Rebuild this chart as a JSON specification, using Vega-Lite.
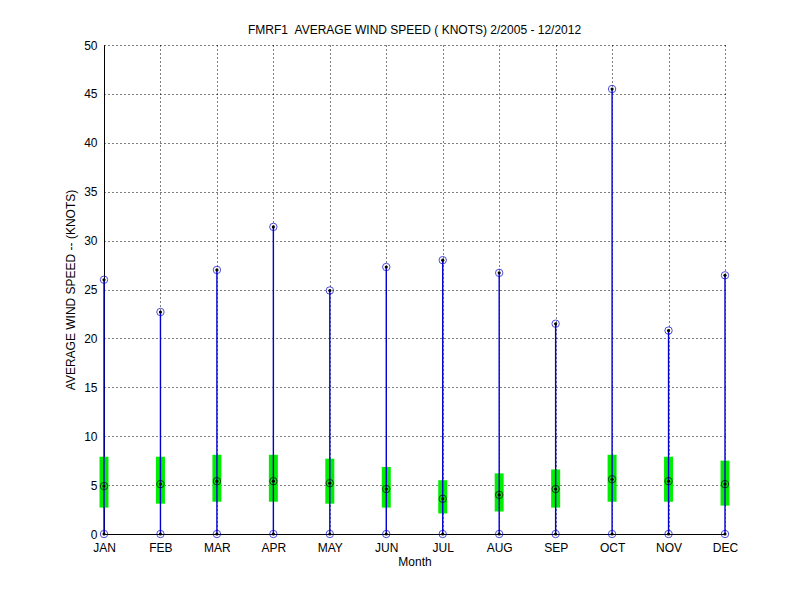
{
  "$schema": "https://vega.github.io/schema/vega-lite/v6.json",
  "width": 621,
  "height": 489,
  "autosize": "none",
  "padding": {"left": 104, "top": 45, "right": 75, "bottom": 66},
  "background": "white",
  "config": {
    "font": "Liberation Sans",
    "view": {"stroke": null},
    "axis": {
      "zindex": 0,
      "labelFont": "Liberation Sans",
      "titleFont": "Liberation Sans",
      "labelFontSize": 12,
      "titleFontSize": 12,
      "titleFontWeight": "normal",
      "labelColor": "black",
      "titleColor": "black",
      "domainColor": "black",
      "tickColor": "black",
      "gridColor": "black",
      "gridDash": [1, 3],
      "gridOpacity": 1,
      "gridWidth": 1
    }
  },
  "title": {
    "text": "FMRF1\u00a0\u00a0AVERAGE WIND SPEED ( KNOTS) 2/2005 - 12/2012",
    "font": "Liberation Sans",
    "fontSize": 12,
    "fontWeight": "normal",
    "color": "black",
    "offset": 2
  },
  "data": {
    "values": [
      {"month": "JAN", "min": 0, "max": 26.0, "q1": 2.7, "q3": 7.9, "mean": 4.9},
      {"month": "FEB", "min": 0, "max": 22.7, "q1": 3.1, "q3": 7.9, "mean": 5.1},
      {"month": "MAR", "min": 0, "max": 27.0, "q1": 3.3, "q3": 8.1, "mean": 5.4},
      {"month": "APR", "min": 0, "max": 31.4, "q1": 3.3, "q3": 8.1, "mean": 5.4},
      {"month": "MAY", "min": 0, "max": 24.9, "q1": 3.1, "q3": 7.7, "mean": 5.2},
      {"month": "JUN", "min": 0, "max": 27.3, "q1": 2.7, "q3": 6.85, "mean": 4.6},
      {"month": "JUL", "min": 0, "max": 28.0, "q1": 2.1, "q3": 5.5, "mean": 3.6},
      {"month": "AUG", "min": 0, "max": 26.7, "q1": 2.3, "q3": 6.2, "mean": 4.0},
      {"month": "SEP", "min": 0, "max": 21.5, "q1": 2.7, "q3": 6.6, "mean": 4.6},
      {"month": "OCT", "min": 0, "max": 45.5, "q1": 3.3, "q3": 8.1, "mean": 5.6},
      {"month": "NOV", "min": 0, "max": 20.8, "q1": 3.3, "q3": 7.9, "mean": 5.4},
      {"month": "DEC", "min": 0, "max": 26.45, "q1": 2.9, "q3": 7.5, "mean": 5.1}
    ]
  },
  "encoding": {
    "x": {
      "field": "month",
      "type": "nominal",
      "sort": null,
      "scale": {"type": "point", "padding": 0},
      "axis": {
        "title": "Month",
        "labelAngle": 0,
        "grid": true,
        "ticks": false,
        "labelPadding": 8,
        "titlePadding": 3
      }
    }
  },
  "layer": [
    {
      "mark": {"type": "rule", "strokeWidth": 9, "color": "#00ee00"},
      "encoding": {
        "y": {
          "field": "q1",
          "type": "quantitative",
          "scale": {"domain": [0, 50], "nice": false},
          "axis": {
            "title": "AVERAGE WIND SPEED -- (KNOTS)",
            "values": [0, 5, 10, 15, 20, 25, 30, 35, 40, 45, 50],
            "grid": true,
            "ticks": false,
            "labelPadding": 7,
            "titlePadding": 6
          }
        },
        "y2": {"field": "q3"}
      }
    },
    {
      "mark": {"type": "rule", "strokeWidth": 1.4, "color": "#0000d0"},
      "encoding": {
        "y": {"field": "min", "type": "quantitative"},
        "y2": {"field": "max"}
      }
    },
    {
      "mark": {"type": "point", "shape": "circle", "filled": false, "size": 55, "strokeWidth": 1, "color": "#0000c8"},
      "encoding": {"y": {"field": "max", "type": "quantitative"}}
    },
    {
      "mark": {"type": "point", "shape": "circle", "filled": false, "size": 55, "strokeWidth": 1, "color": "#0000c8"},
      "encoding": {"y": {"field": "min", "type": "quantitative"}}
    },
    {
      "mark": {"type": "point", "shape": "circle", "filled": false, "size": 55, "strokeWidth": 1, "color": "black"},
      "encoding": {"y": {"field": "mean", "type": "quantitative"}}
    },
    {
      "mark": {"type": "point", "shape": "circle", "filled": true, "size": 10, "opacity": 1, "color": "black"},
      "encoding": {"y": {"field": "max", "type": "quantitative"}}
    },
    {
      "mark": {"type": "point", "shape": "circle", "filled": true, "size": 10, "opacity": 1, "color": "black"},
      "encoding": {"y": {"field": "min", "type": "quantitative"}}
    },
    {
      "mark": {"type": "point", "shape": "circle", "filled": true, "size": 10, "opacity": 1, "color": "black"},
      "encoding": {"y": {"field": "mean", "type": "quantitative"}}
    }
  ]
}
